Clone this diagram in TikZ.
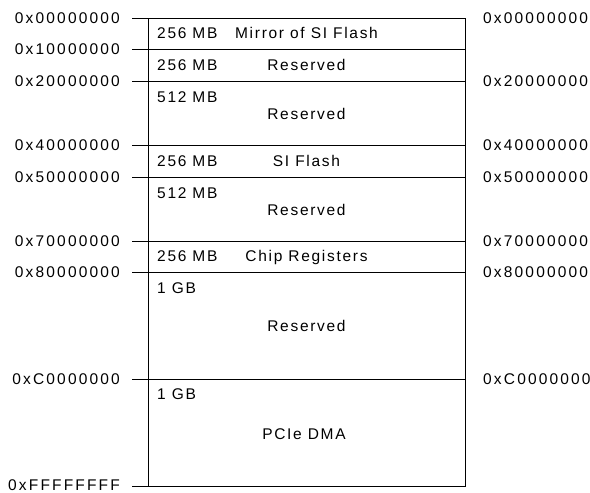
\documentclass[tikz,border=0pt]{standalone}
\usepackage{fontspec}
\setmainfont{Liberation Sans}
\newfontfamily\addrfont[LetterSpace=14]{Liberation Sans}
\newfontfamily\mapfont[LetterSpace=11]{Liberation Sans}
\usetikzlibrary{positioning}

\begin{document}
\begin{tikzpicture}[
  x=1pt, y=-1pt,
  line/.style={line width=0.8pt},
  addr/.style={font=\fontsize{15.5}{18}\selectfont\addrfont, inner sep=0pt},
  size/.style={font=\fontsize{15.5}{18}\selectfont\mapfont, inner sep=0pt, anchor=base west},
  region/.style={font=\fontsize{15.5}{18}\selectfont\mapfont, inner sep=0pt, anchor=base},
]
\useasboundingbox (0,0) rectangle (590,493);

% memory map outline
\draw[line] (148,18) rectangle (465,486.5);

% boundaries with addresses on the left
\foreach \y/\a [count=\i] in {18/00000000, 49.5/10000000, 81/20000000, 145/40000000,
    177/50000000, 241/70000000, 272/80000000, 379/C0000000} {
  \draw[line] (132,\y) -- (465,\y);
  \node[addr, anchor=east] (left\i) at (120,\y) {0x\a};
}
\draw[line] (132,486.5) -- (148,486.5);
\node[addr, anchor=east] (left9) at (120,485) {0xFFFFFFFF};
% addresses on the right
\foreach \y/\a [count=\i] in {18/00000000, 81/20000000, 145/40000000,
    177/50000000, 241/70000000, 272/80000000, 379/C0000000} {
  \node[addr, anchor=west] (right\i) at (483,\y) {0x\a};
}

% regions
\node[size] (size1) at (157,38) {256 MB};
\node[region] (reg1) at (306.5,38) {Mirror of SI Flash};
\node[size] (size2) at (157,70) {256 MB};
\node[region] (reg2) at (306.5,70) {Reserved};
\node[size] (size3) at (157,102.5) {512 MB};
\node[region] (reg3) at (306.5,119) {Reserved};
\node[size] (size4) at (157,166) {256 MB};
\node[region] (reg4) at (306.5,166) {SI Flash};
\node[size] (size5) at (157,198.5) {512 MB};
\node[region] (reg5) at (306.5,215) {Reserved};
\node[size] (size6) at (157,261.5) {256 MB};
\node[region] (reg6) at (306.5,261.5) {Chip Registers};
\node[size] (size7) at (157,293.5) {1 GB};
\node[region] (reg7) at (306.5,331) {Reserved};
\node[size] (size8) at (157,399.5) {1 GB};
\node[region] (reg8) at (304,439) {PCIe DMA};
\end{tikzpicture}
\end{document}
